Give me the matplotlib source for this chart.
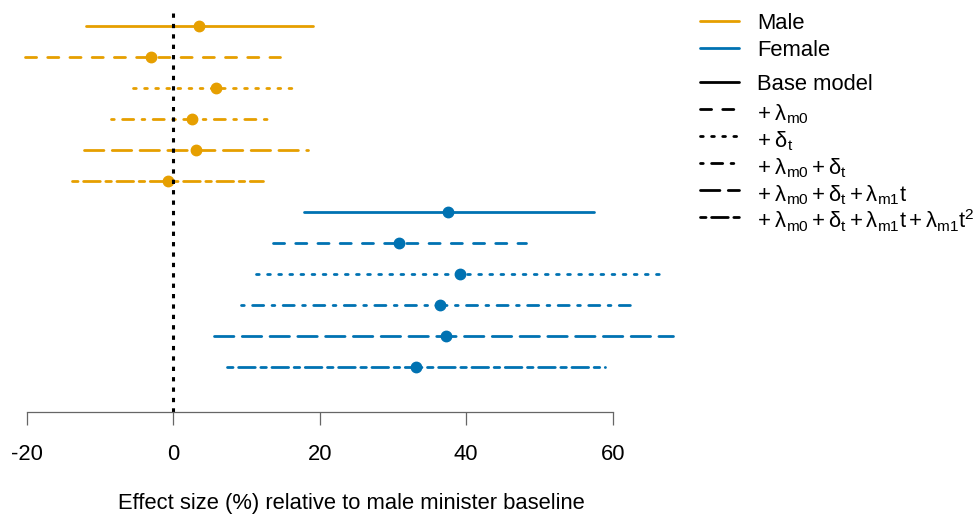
import matplotlib
matplotlib.use('Agg')
import matplotlib.pyplot as plt

plt.rcParams['font.family'] = ['Liberation Sans', 'DejaVu Sans']
plt.rcParams['mathtext.fontset'] = 'custom'
plt.rcParams['mathtext.rm'] = 'Liberation Sans'
plt.rcParams['mathtext.it'] = 'Liberation Sans'
plt.rcParams['mathtext.default'] = 'regular'

# data
groups = ['Male', 'Female']
group_colors = ['#E69F00', '#0072B2']
models = ['Base model',
          r'$+\;\lambda_{m0}$',
          r'$+\;\delta_t$',
          r'$+\;\lambda_{m0}+\delta_t$',
          r'$+\;\lambda_{m0}+\delta_t+\lambda_{m1}t$',
          r'$+\;\lambda_{m0}+\delta_t+\lambda_{m1}t+\lambda_{m1}t^2$']

male_est = [3.5, -3.0, 5.8, 2.5, 3.1, -0.8]
male_lo = [-12.0, -20.3, -5.5, -8.5, -12.2, -13.9]
male_hi = [19.0, 14.5, 17.0, 13.5, 18.4, 12.2]
female_est = [37.5, 30.8, 39.2, 36.4, 37.2, 33.1]
female_lo = [17.9, 13.6, 11.3, 9.2, 5.6, 7.3]
female_hi = [57.4, 48.1, 67.2, 63.3, 68.3, 58.9]

xticks = [-20, 0, 20, 40, 60]

# R style line types (lty 1..6), in units of line width
ltys = ['-', (0, (4, 4)), (0, (1, 3)), (0, (1, 3, 4, 3)), (0, (7, 3)), (0, (2, 2, 6, 2))]

W, H = 973, 514
fig = plt.figure(figsize=(W / 100, H / 100), dpi=100)
fs = 15.8

px_per_unit = (613 - 27.3) / 80.0
zero_px = 173.4
axis_px = 411.7
row0_px, row_step = 25.5, 31.0
ax_right_px = 700

ax = fig.add_axes([0, (H - axis_px) / H, ax_right_px / W, axis_px / H])
ax.set_xlim(-zero_px / px_per_unit, (ax_right_px - zero_px) / px_per_unit)
ax.set_ylim((axis_px - row0_px) / row_step, -row0_px / row_step)

lw = 2.0
row = 0
for est, lo, hi, col in [(male_est, male_lo, male_hi, group_colors[0]),
                         (female_est, female_lo, female_hi, group_colors[1])]:
    for i in range(len(models)):
        ax.plot([lo[i], hi[i]], [row, row], color=col, lw=lw, ls=ltys[i],
                dash_capstyle='round', solid_capstyle='round')
        ax.plot(est[i], row, 'o', color=col, ms=7.5, mec=col)
        row += 1

# reference line at zero
ax.plot([0, 0], [-12.5 / row_step, (axis_px - row0_px) / row_step], color='black',
        lw=2.2, ls=(0, (1.4, 2.0)), dash_capstyle='butt', clip_on=False)

for s in ['top', 'right', 'left']:
    ax.spines[s].set_visible(False)
ax.spines['bottom'].set_bounds(-20, 60)
ax.spines['bottom'].set_color('#666666')
ax.spines['bottom'].set_linewidth(0.9)
ax.set_yticks([])
ax.set_xticks(xticks)
ax.set_xticklabels([str(t) for t in xticks])
ax.tick_params(axis='x', direction='out', length=9.4, width=0.9, color='#666666',
               pad=14, labelsize=fs)
ax.patch.set_visible(False)

fig.text(351 / W, 1 - 508.5 / H, 'Effect size (%) relative to male minister baseline',
         ha='center', va='baseline', fontsize=fs)

# legend drawn on an overlay in pixel units
lax = fig.add_axes([0, 0, 1, 1])
lax.set_xlim(0, W)
lax.set_ylim(H, 0)
lax.axis('off')
x0, x1, xt = 699.7, 738.6, 757.0
for k, (g, col) in enumerate(zip(groups, group_colors)):
    y = 21 + 27.2 * k
    lax.plot([x0, x1], [y, y], color=col, lw=lw, solid_capstyle='round')
    lax.text(xt, y + 7.8, g, fontsize=fs, va='baseline', ha='left')
for k, m in enumerate(models):
    y = 81.9 + 27.0 * k
    lax.plot([x0, x1], [y, y], color='black', lw=lw, ls=ltys[k],
             dash_capstyle='round', solid_capstyle='round')
    off = 8.3 if k == 0 else 11.3
    lax.text(xt, y + off, m, fontsize=fs, va='baseline', ha='left')

fig.savefig('out.png', dpi=100)
